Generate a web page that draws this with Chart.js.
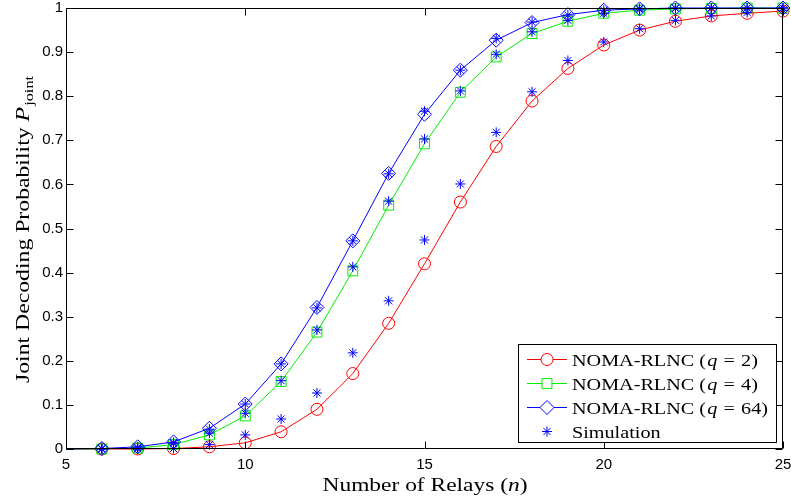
<!DOCTYPE html>
<html><head><meta charset="utf-8">
<script src="https://cdn.jsdelivr.net/npm/chart.js@4.4.0/dist/chart.umd.min.js"></script>
<style>html,body{margin:0;padding:0;background:#fff;}#wrap{width:791px;height:502px;}</style>
</head><body><div id="wrap"><canvas id="c" width="791" height="502"></canvas></div>
<script>
const relays = [5,6,7,8,9,10,11,12,13,14,15,16,17,18,19,20,21,22,23,24,25];
const pQ2  = [0.000,0.000,0.000,0.001,0.005,0.014,0.039,0.090,0.171,0.285,0.420,0.560,0.686,0.789,0.863,0.916,0.950,0.970,0.982,0.988,0.993];
const pQ4  = [0.000,0.000,0.002,0.010,0.032,0.075,0.153,0.265,0.404,0.553,0.692,0.809,0.889,0.942,0.970,0.988,0.995,0.998,0.999,1.000,1.000];
const pQ64 = [0.000,0.001,0.005,0.016,0.047,0.102,0.193,0.321,0.472,0.625,0.759,0.859,0.927,0.967,0.985,0.995,0.998,1.000,1.000,1.000,1.000];
const simRelays = [6,7,8,9,10,11,12,13,14,15,16,17,18,19,20,21,22,23,24,25];
const simQ2  = [0.000,0.000,0.001,0.010,0.032,0.068,0.127,0.218,0.336,0.474,0.601,0.718,0.810,0.881,0.923,0.953,0.972,0.982,0.990,0.995];
const simQ4  = [0.000,0.002,0.012,0.036,0.081,0.155,0.270,0.413,0.562,0.703,0.812,0.895,0.946,0.972,0.988,0.996,0.999,1.000,1.000,1.000];
const simQ64 = [0.001,0.004,0.015,0.045,0.102,0.193,0.320,0.472,0.624,0.766,0.859,0.931,0.968,0.984,0.995,0.999,1.000,1.000,1.000,1.000];
const xTicks = [5,10,15,20,25];
const xTickLabels = ['5','10','15','20','25'];
const yTickLabels = ['0','0.1','0.2','0.3','0.4','0.5','0.6','0.7','0.8','0.9','1'];
const qValues = ['2','4','64'];
const seriesColors = ['#ff0000','#00ee00','#0000ff'];
const seriesMarkers = ['circle','rect','rectRot'];
const markerRadius = [6,7,7];
const simColor = '#0000ff';

function pts(xs, arr){ return xs.map((n,i)=>({x:n,y:arr[i]})); }
const simPoints = [].concat(pts(simRelays,simQ2), pts(simRelays,simQ4), pts(simRelays,simQ64));

const serif = '"Liberation Serif", "DejaVu Serif", serif';

function drawParts(ctx, parts, targetWidth, align){
  let w = 0;
  parts.forEach(p=>{ctx.font=p.font; p.w=ctx.measureText(p.text).width; w+=p.w + (p.gapAfter||0);});
  const s = targetWidth ? targetWidth / w : 1;
  ctx.save();
  ctx.scale(s,1);
  let x = align==='center' ? -w/2 : 0;
  parts.forEach(p=>{ctx.font=p.font; ctx.fillText(p.text, x, p.dy||0); x += p.w + (p.gapAfter||0);});
  ctx.restore();
}

const framePlugin = {
  id:'frame',
  afterDatasetsDraw(chart){
    const {ctx, chartArea:a, scales} = chart;
    ctx.save();
    ctx.strokeStyle='#000'; ctx.lineWidth=1;
    const L=Math.round(a.left)+0.5, R=Math.round(a.right)-0.5, T=Math.round(a.top)+0.5, B=Math.round(a.bottom)-0.5;
    ctx.beginPath();
    ctx.rect(L,T,R-L,B-T);
    const tl=7;
    scales.y.ticks.forEach(t=>{
      const y=Math.round(scales.y.getPixelForValue(t.value))+0.5;
      ctx.moveTo(L,y); ctx.lineTo(L+tl,y);
      ctx.moveTo(R,y); ctx.lineTo(R-tl,y);
    });
    xTicks.forEach(v=>{
      const x=Math.round(scales.x.getPixelForValue(v))+0.5;
      ctx.moveTo(x,B); ctx.lineTo(x,B-tl);
      ctx.moveTo(x,T); ctx.lineTo(x,T+tl);
    });
    ctx.stroke();
    ctx.restore();
  },
  afterDraw(chart){
    const ctx = chart.ctx;
    const a = chart.chartArea;
    ctx.save();
    ctx.fillStyle='#000';
    ctx.textBaseline='alphabetic';
    // x title
    ctx.save();
    ctx.translate((a.left+a.right)/2 + 0.5, 491);
    drawParts(ctx,[
      {text:'Number of Relays (', font:'19px '+serif},
      {text:'n', font:'italic 19px '+serif},
      {text:')', font:'19px '+serif}
    ], 205, 'center');
    ctx.restore();
    // y title
    ctx.save();
    ctx.translate(28.5, (a.top+a.bottom)/2 + 1);
    ctx.rotate(-Math.PI/2);
    drawParts(ctx,[
      {text:'Joint Decoding Probability ', font:'19px '+serif},
      {text:'P', font:'italic 19px '+serif, gapAfter:1},
      {text:'joint', font:'13px '+serif, dy:4}
    ], 307, 'center');
    ctx.restore();
    // legend
    const bx=518.5, by=344.5, bw=258, bh=98;
    ctx.fillStyle='#fff';
    ctx.fillRect(bx,by,bw,bh);
    ctx.strokeStyle='#000'; ctx.lineWidth=1;
    ctx.strokeRect(bx,by,bw,bh);
    const rows=[359.5,383.5,407.5,431.5];
    const fsz='17px '+serif, fi='italic 17px '+serif;
    const labelParts = (q)=>[
      {text:'NOMA-RLNC (', font:fsz, gapAfter:1},
      {text:'q', font:fi, gapAfter:1},
      {text:' = ', font:fsz, gapAfter:1},
      {text:q+')', font:fsz}
    ];
    let wmax=0;
    labelParts('64').forEach(p=>{ctx.font=p.font; wmax+=ctx.measureText(p.text).width+(p.gapAfter||0);});
    const s = 196 / wmax;
    for(let i=0;i<3;i++){
      const y=rows[i];
      ctx.strokeStyle=seriesColors[i]; ctx.lineWidth=1;
      ctx.beginPath(); ctx.moveTo(527,y); ctx.lineTo(567,y); ctx.stroke();
      ctx.fillStyle='#fff';
      Chart.helpers.drawPoint(ctx,{pointStyle:seriesMarkers[i],radius:markerRadius[i],rotation:0,borderWidth:1},547,y);
      ctx.fillStyle='#000';
      ctx.save(); ctx.translate(572,y+6);
      const parts=labelParts(qValues[i]);
      let w=0; parts.forEach(p=>{ctx.font=p.font; w+=ctx.measureText(p.text).width+(p.gapAfter||0);});
      drawParts(ctx, parts, w*s, 'left');
      ctx.restore();
    }
    ctx.strokeStyle=simColor; ctx.lineWidth=1;
    Chart.helpers.drawPoint(ctx,{pointStyle:'star',radius:5,rotation:0,borderWidth:1},547,rows[3]);
    ctx.fillStyle='#000';
    ctx.save(); ctx.translate(572,rows[3]+6);
    ctx.font=fsz; const ws=ctx.measureText('Simulation').width;
    drawParts(ctx,[{text:'Simulation',font:fsz}], ws*s, 'left');
    ctx.restore();
    ctx.restore();
  }
};

const theoryDs = [pQ2,pQ4,pQ64].map((arr,i)=>({
  label:'NOMA-RLNC (q = '+qValues[i]+')',
  data:pts(relays,arr),
  borderColor:seriesColors[i],
  backgroundColor:'transparent',
  borderWidth:1,
  pointStyle:seriesMarkers[i],
  pointRadius:(c)=> c.dataIndex===0 ? 0 : markerRadius[i],
  pointBorderColor:seriesColors[i],
  pointBackgroundColor:'transparent',
  pointBorderWidth:1,
  tension:0,
  clip:false,
  order:3-i
}));

new Chart(document.getElementById('c'),{
  type:'line',
  data:{datasets:[...theoryDs,{
    label:'Simulation',
    data:simPoints,
    showLine:false,
    borderColor:simColor,
    backgroundColor:simColor,
    pointStyle:'star',
    pointRadius:5,
    pointBorderColor:simColor,
    pointBorderWidth:1,
    clip:false,
    order:0
  }]},
  options:{
    responsive:false, animation:false, devicePixelRatio:1,
    layout:{padding:{left:0,right:8,top:6,bottom:0}},
    plugins:{legend:{display:false},tooltip:{enabled:false}},
    elements:{point:{hoverRadius:0}},
    scales:{
      x:{type:'linear',min:5,max:25,
        grid:{display:false,drawTicks:false},border:{display:false},
        ticks:{stepSize:5,padding:7,color:'#000',font:{family:'Liberation Sans',size:15},maxRotation:0,
          callback:(v)=>{const k=xTicks.indexOf(v);return k>=0?xTickLabels[k]:'';}},
        afterFit(s){s.height=53;s.paddingLeft=0;s.paddingRight=0;}
      },
      y:{type:'linear',min:0,max:1,
        grid:{display:false,drawTicks:false},border:{display:false},
        ticks:{stepSize:0.1,padding:3,color:'#000',font:{family:'Liberation Sans',size:15},
          callback:(v,i)=>yTickLabels[i]},
        afterFit(s){s.width=66;s.paddingTop=0;s.paddingBottom=0;}
      }
    }
  },
  plugins:[framePlugin]
});
</script></body></html>
